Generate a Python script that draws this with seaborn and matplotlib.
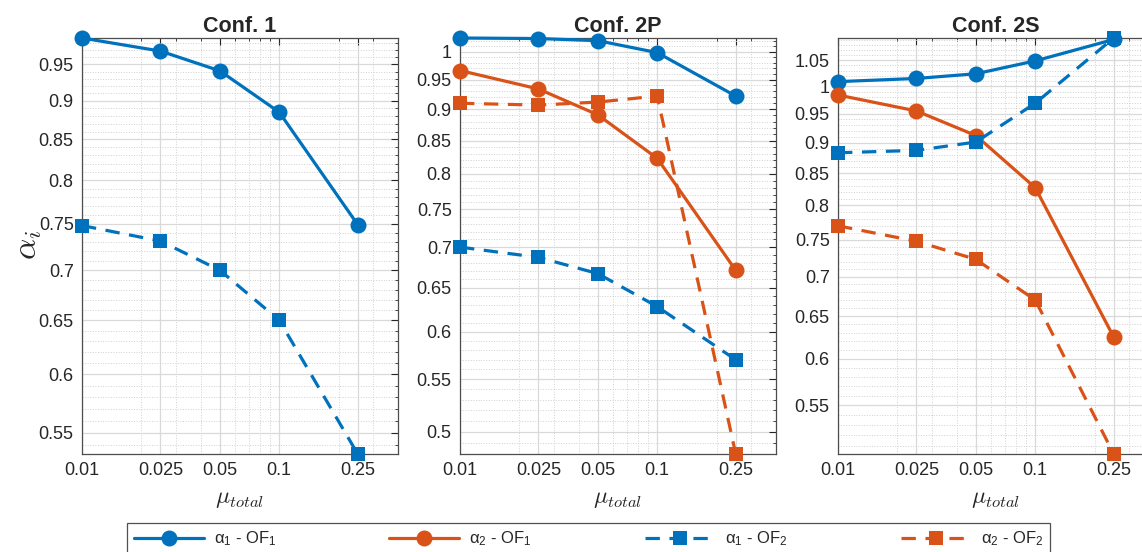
import numpy as np
import pandas as pd
import matplotlib
matplotlib.use("Agg")
import matplotlib.pyplot as plt
import matplotlib.ticker as mticker
import seaborn as sns

# ---------------- datos ----------------
mu = [0.01, 0.025, 0.05, 0.1, 0.25]
mu_labels = ["0.01", "0.025", "0.05", "0.1", "0.25"]

# Conf. 1
c1_a1_of1 = [0.988, 0.969, 0.941, 0.885, 0.749]
c1_a1_of2 = [0.748, 0.731, 0.700, 0.650, 0.533]

# Conf. 2P
c2p_a1_of1 = [1.025, 1.024, 1.020, 0.998, 0.922]
c2p_a2_of1 = [0.966, 0.934, 0.891, 0.823, 0.671]
c2p_a1_of2 = [0.700, 0.687, 0.667, 0.628, 0.570]
c2p_a2_of2 = [0.910, 0.907, 0.912, 0.922, 0.480]

# Conf. 2S
c2s_a1_of1 = [1.009, 1.015, 1.024, 1.049, 1.092]
c2s_a2_of1 = [0.984, 0.955, 0.912, 0.827, 0.625]
c2s_a1_of2 = [0.883, 0.887, 0.901, 0.969, 1.095]
c2s_a2_of2 = [0.770, 0.748, 0.723, 0.670, 0.502]

titles = ["Conf. 1", "Conf. 2P", "Conf. 2S"]
series_names = [r"α$\mathregular{_1}$ - OF$\mathregular{_1}$",
                r"α$\mathregular{_2}$ - OF$\mathregular{_1}$",
                r"α$\mathregular{_1}$ - OF$\mathregular{_2}$",
                r"α$\mathregular{_2}$ - OF$\mathregular{_2}$"]

paneles = [
    {"a1_of1": c1_a1_of1, "a1_of2": c1_a1_of2},
    {"a1_of1": c2p_a1_of1, "a2_of1": c2p_a2_of1, "a1_of2": c2p_a1_of2, "a2_of2": c2p_a2_of2},
    {"a1_of1": c2s_a1_of1, "a2_of1": c2s_a2_of1, "a1_of2": c2s_a1_of2, "a2_of2": c2s_a2_of2},
]

azul = "#0072BD"
naranja = "#D95319"
guion = (0, (4.5, 3))
estilos = {
    "a1_of1": dict(color=azul, linestyle="-", marker="o", markersize=11.5, label=series_names[0]),
    "a2_of1": dict(color=naranja, linestyle="-", marker="o", markersize=11.5, label=series_names[1]),
    "a1_of2": dict(color=azul, linestyle=guion, marker="s", markersize=9.5, label=series_names[2]),
    "a2_of2": dict(color=naranja, linestyle=guion, marker="s", markersize=9.5, label=series_names[3]),
}

sns.set_style("white")
plt.rcParams["font.family"] = ["Liberation Sans", "DejaVu Sans"]
plt.rcParams["mathtext.fontset"] = "cm"

fig = plt.figure(figsize=(11.42, 5.52), dpi=100)

W = 1142
H = 552
lefts = [82, 460, 838]
ax_w = 316
top_px, bot_px = 38, 454

axes = []
for i, datos in enumerate(paneles):
    ax = fig.add_axes([lefts[i] / W, 1 - bot_px / H, ax_w / W, (bot_px - top_px) / H])
    axes.append(ax)
    todos = []
    for key, vals in datos.items():
        df = pd.DataFrame({"mu": mu, "alpha": vals})
        st = estilos[key]
        sns.lineplot(data=df, x="mu", y="alpha", ax=ax, color=st["color"],
                     linestyle=st["linestyle"], marker=st["marker"],
                     markersize=st["markersize"], markeredgewidth=0,
                     linewidth=2.3, label=st["label"], clip_on=False, zorder=3)
        todos += vals

    ax.set_xscale("log")
    ax.set_yscale("log")
    ax.set_xlim(0.01, 0.4)
    ax.set_ylim(min(todos), max(todos))

    ax.xaxis.set_major_locator(mticker.FixedLocator(mu))
    ax.xaxis.set_major_formatter(mticker.FixedFormatter(mu_labels))
    ax.xaxis.set_minor_locator(mticker.FixedLocator(
        [0.02, 0.03, 0.04, 0.06, 0.07, 0.08, 0.09, 0.2, 0.3, 0.4]))
    ax.xaxis.set_minor_formatter(mticker.NullFormatter())

    ax.yaxis.set_major_locator(mticker.FixedLocator(np.round(np.arange(0.45, 1.15, 0.05), 2)))
    ax.yaxis.set_major_formatter(mticker.FormatStrFormatter("%g"))
    ax.yaxis.set_minor_locator(mticker.FixedLocator(np.round(np.arange(0.45, 1.15, 0.01), 2)))
    ax.yaxis.set_minor_formatter(mticker.NullFormatter())

    ax.grid(which="major", color="#d9d9d9", linewidth=0.9, linestyle="-")
    ax.grid(which="minor", color="#d0d0d0", linewidth=0.7, linestyle=":")
    ax.set_axisbelow(True)

    ax.tick_params(which="major", direction="in", length=5, width=0.8, colors="#262626",
                   labelsize=13, top=True, right=True, pad=6)
    ax.tick_params(which="minor", direction="in", length=2.5, width=0.6, colors="#262626",
                   top=True, right=True)
    for sp in ax.spines.values():
        sp.set_color("#4d4d4d")
        sp.set_linewidth(0.9)

    ax.set_title(titles[i], fontsize=15.5, fontweight="bold", pad=4)
    ax.set_xlabel(r"$\mu_{total}$", fontsize=17, labelpad=6)
    ax.set_ylabel("")
    if ax.get_legend() is not None:
        ax.get_legend().remove()

fig.text(28 / W, 1 - 245 / H, r"$\alpha_i$", fontsize=24, rotation=90,
         ha="center", va="center")

handles, labels = axes[1].get_legend_handles_labels()
leg = fig.legend(handles, labels, loc="upper left", ncol=4, mode="expand",
                 bbox_to_anchor=(127 / W, -0.2, (1050 - 127) / W, 0.2 + 1 - 523 / H),
                 borderaxespad=0, fontsize=12, handlelength=4.2, frameon=True,
                 fancybox=False, edgecolor="#262626", borderpad=0.4, handletextpad=0.6)
leg.get_frame().set_linewidth(0.9)

fig.savefig("out.png", dpi=100)
